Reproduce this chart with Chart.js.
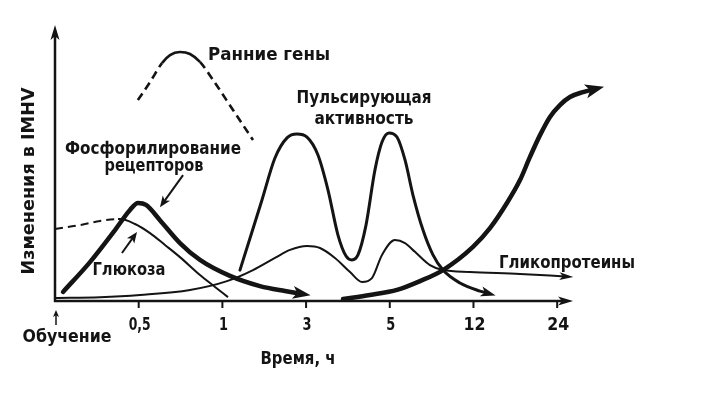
<!DOCTYPE html>
<html>
<head>
<meta charset="utf-8">
<style>
    body { margin: 0; background: #fff; }
    #chart { display: block; }
</style>
</head>
<body>
<canvas id="chart" width="716" height="394"></canvas>
<script src="https://cdn.jsdelivr.net/npm/chart.js@4.4.2/dist/chart.umd.min.js"></script>
<script>
// tick labels along the time axis (index 0 = moment of training)
const timeLabels = ['Обучение', '0,5', '1', '3', '5', '12', '24'];

// curves: [x position on time axis, relative change 0..100]
const earlyGenes = [[0.99, 72.8], [1.135, 79.3], [1.278, 86.2], [1.374, 89.1], [1.493, 90.2], [1.613, 89.5],
    [1.732, 86.6], [1.888, 80.1], [2.127, 69.2], [2.366, 58.3]];
const phosphorylation = [[0.096, 3.3], [0.418, 14.1], [0.717, 25.7], [0.896, 33.0], [0.992, 35.5], [1.087, 34.8],
    [1.254, 29.3], [1.493, 21.0], [1.732, 14.9], [2.091, 9.1], [2.449, 5.4], [2.748, 3.6], [2.927, 2.7]];
const glucose = [[0, 26.1], [0.299, 27.5], [0.538, 29.0], [0.753, 29.7], [0.777, 29.7], [0.956, 27.9],
    [1.135, 24.6], [1.314, 20.3], [1.493, 15.9], [1.732, 9.4], [1.912, 5.1], [2.067, 1.4]];
const pulsing = [[2.210, 11.2], [2.342, 23.9], [2.473, 36.6], [2.628, 51.8], [2.772, 59.1], [2.891, 60.5],
    [3.011, 59.4], [3.142, 52.9], [3.262, 40.2], [3.381, 23.9], [3.477, 16.3], [3.548, 14.9], [3.620, 16.7],
    [3.716, 27.5], [3.823, 47.5], [3.907, 57.6], [3.990, 60.9], [4.086, 59.4], [4.182, 51.1], [4.277, 38.4],
    [4.397, 25.7], [4.516, 16.7], [4.636, 11.2], [4.839, 6.5], [5.078, 3.6], [5.161, 2.9]];
const glycoproteins = [[0, 1.1], [0.538, 1.4], [1.016, 2.2], [1.613, 4.0], [2.055, 7.2], [2.366, 11.2],
    [2.628, 15.6], [2.808, 18.5], [3.011, 19.9], [3.166, 19.2], [3.345, 15.6], [3.525, 10.5], [3.668, 6.9],
    [3.787, 8.3], [3.907, 16.7], [4.062, 22.1], [4.182, 21.0], [4.301, 17.8], [4.480, 13.0], [4.636, 11.2],
    [4.958, 10.5], [5.556, 9.8], [6.093, 8.9]];
const lateRise = [[3.441, 0.7], [3.763, 2.2], [4.086, 4.0], [4.361, 7.2], [4.636, 11.2], [4.994, 19.6],
    [5.197, 26.4], [5.400, 35.5], [5.556, 43.8], [5.675, 52.2], [5.795, 60.1], [5.914, 66.7], [6.033, 71.0],
    [6.153, 73.9], [6.308, 75.7], [6.428, 76.6]];

const xAxisEnd = 6.19;
const yAxisEnd = 100;
const FONT = '"DejaVu Sans Condensed", "DejaVu Sans", sans-serif';
const INK = '#141414';

function toPoints(pairs) {
    return pairs.map(p => ({ x: p[0], y: p[1] }));
}

function curve(pairs, width, extra) {
    return Object.assign({
        data: toPoints(pairs),
        borderColor: INK,
        borderWidth: width,
        pointRadius: 0,
        fill: false,
        cubicInterpolationMode: 'monotone',
        borderCapStyle: 'round',
        clip: false
    }, extra || {});
}

// draws text squeezed/stretched to a given width
function fitText(ctx, text, x, y, w, angle) {
    ctx.save();
    ctx.font = 'bold 17px ' + FONT;
    ctx.fillStyle = INK;
    ctx.textAlign = 'center';
    ctx.textBaseline = 'alphabetic';
    const m = ctx.measureText(text).width;
    ctx.translate(x, y);
    if (angle) ctx.rotate(angle);
    ctx.scale(w / m, 1);
    ctx.fillText(text, 0, 0);
    ctx.restore();
}

function arrowHead(ctx, tipX, tipY, dx, dy, len, half) {
    const d = Math.hypot(dx, dy) || 1;
    const ux = dx / d, uy = dy / d;
    const bx = tipX - ux * len, by = tipY - uy * len;
    ctx.beginPath();
    ctx.moveTo(tipX, tipY);
    ctx.lineTo(bx - uy * half, by + ux * half);
    ctx.lineTo(tipX - ux * len * 0.75, tipY - uy * len * 0.75);
    ctx.lineTo(bx + uy * half, by - ux * half);
    ctx.closePath();
    ctx.fill();
}

// straight line ending in an arrowhead; the line stops inside the head
function arrowLine(ctx, x1, y1, x2, y2, width, len, half) {
    const d = Math.hypot(x2 - x1, y2 - y1) || 1;
    const stop = len * 0.6;
    ctx.lineWidth = width;
    ctx.beginPath();
    ctx.moveTo(x1, y1);
    ctx.lineTo(x2 - (x2 - x1) / d * stop, y2 - (y2 - y1) / d * stop);
    ctx.stroke();
    arrowHead(ctx, x2, y2, x2 - x1, y2 - y1, len, half);
}

const schemeDecor = {
    id: 'schemeDecor',
    afterDatasetsDraw(chart) {
        const ctx = chart.ctx;
        const xs = chart.scales.x, ys = chart.scales.y;
        const x0 = xs.getPixelForValue(0), y0 = ys.getPixelForValue(0);
        ctx.save();
        ctx.strokeStyle = INK;
        ctx.fillStyle = INK;
        ctx.lineCap = 'butt';

        // axes with arrows
        const xEnd = xs.getPixelForValue(xAxisEnd), yEnd = ys.getPixelForValue(yAxisEnd);
        arrowLine(ctx, x0 - 1, y0, xEnd, y0, 2.5, 15, 4.5);
        arrowLine(ctx, x0, y0 + 1, x0, yEnd, 2.5, 15, 4.5);

        // tick marks and labels
        ctx.lineWidth = 2;
        for (let i = 1; i < timeLabels.length; i++) {
            const px = xs.getPixelForValue(i);
            ctx.beginPath();
            ctx.moveTo(px, y0);
            ctx.lineTo(px, y0 + 7);
            ctx.stroke();
            const w = timeLabels[i].length === 1 ? 9 : 22;
            fitText(ctx, timeLabels[i], px + 1, y0 + 29, w);
        }
        fitText(ctx, timeLabels[0], x0 + 12, y0 + 41, 89);
        arrowLine(ctx, x0 + 1, y0 + 24, x0 + 1, y0 + 9, 1.5, 7, 3);

        fitText(ctx, 'Время, ч', 298, 364, 75);
        fitText(ctx, 'Изменения в IMHV', 34, 181, 187, -Math.PI / 2);

        // arrowheads at the ends of the curves
        chart.data.datasets.forEach((ds, i) => {
            if (!ds.arrow) return;
            const pts = chart.getDatasetMeta(i).data;
            const p = pts[pts.length - 1], q = pts[pts.length - 2];
            let dx = p.x - (p.cp1x ?? q.x), dy = p.y - (p.cp1y ?? q.y);
            if (Math.hypot(dx, dy) < 0.5) { dx = p.x - q.x; dy = p.y - q.y; }
            const d = Math.hypot(dx, dy);
            const a = ds.arrow;
            arrowHead(ctx, p.x + dx / d * a[0] * 0.6, p.y + dy / d * a[0] * 0.6, dx, dy, a[0], a[1]);
        });

        // text labels
        fitText(ctx, 'Ранние гены', 269, 60, 122);
        fitText(ctx, 'Пульсирующая', 364, 103, 135);
        fitText(ctx, 'активность', 364, 124, 99);
        fitText(ctx, 'Фосфорилирование', 153, 154, 176);
        fitText(ctx, 'рецепторов', 154, 171, 99);
        fitText(ctx, 'Глюкоза', 129, 275, 73);
        fitText(ctx, 'Гликопротеины', 567, 268, 136);

        // pointer arrows to the labelled curves
        arrowLine(ctx, xs.getPixelForValue(1.53), ys.getPixelForValue(45.6),
            xs.getPixelForValue(1.254), ys.getPixelForValue(34.0), 2, 11, 4.5);
        arrowLine(ctx, xs.getPixelForValue(0.80), ys.getPixelForValue(17.4),
            xs.getPixelForValue(0.98), ys.getPixelForValue(25.0), 2, 11, 4.5);
        ctx.restore();
    }
};

const config = {
    type: 'line',
    data: {
        datasets: [
            curve(earlyGenes, 2.6, {
                segment: {
                    borderDash: c => (c.p1.parsed.x <= 1.28 || c.p0.parsed.x >= 1.73) ? [8, 5] : undefined
                },
                borderCapStyle: 'butt'
            }),
            curve(glucose, 2, {
                segment: { borderDash: c => c.p1.parsed.x <= 0.76 ? [8, 5] : undefined },
                borderCapStyle: 'butt'
            }),
            curve(glycoproteins, 2, { arrow: [14, 4] }),
            curve(pulsing, 3, { arrow: [15, 5] }),
            curve(phosphorylation, 4.5, { arrow: [18, 6.5] }),
            curve(lateRise, 4.5, { arrow: [19, 7] })
        ]
    },
    options: {
        responsive: false,
        animation: false,
        layout: { padding: { left: 55, top: 25, right: 58.4, bottom: 93 } },
        plugins: {
            legend: { display: false },
            tooltip: { enabled: false }
        },
        scales: {
            x: { type: 'linear', min: 0, max: 7.2, display: false },
            y: { type: 'linear', min: 0, max: 100, display: false }
        }
    },
    plugins: [schemeDecor]
};

const myChart = new Chart(document.getElementById('chart'), config);
</script>
</body>
</html>
